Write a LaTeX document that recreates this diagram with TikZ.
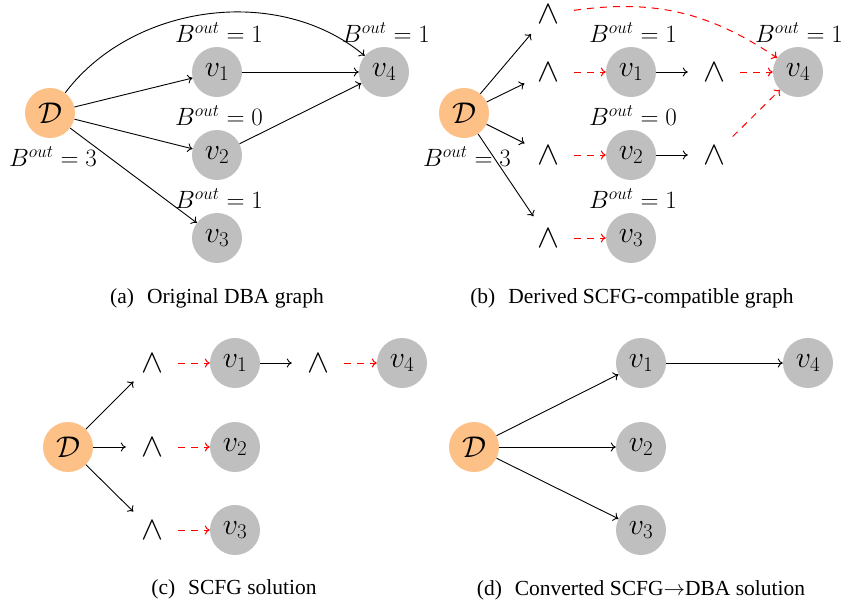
\RequirePackage{fix-cm}
\documentclass[tikz,border=0pt]{standalone}
\usepackage[no-math]{fontspec}
\newfontfamily\capfont{Liberation Serif}
\usetikzlibrary{arrows.meta}
\definecolor{dorange}{HTML}{FDC086}
\definecolor{vgray}{HTML}{BFBFBF}
\tikzset{
  dnode/.style={circle, fill=dorange, minimum size=50pt, inner sep=0pt, font=\fontsize{30}{36}\selectfont},
  vnode/.style={circle, fill=vgray, minimum size=50pt, inner sep=0pt, font=\fontsize{30}{36}\selectfont},
  wnode/.style={circle, minimum size=52pt, inner sep=0pt, font=\fontsize{33}{38}\selectfont},
  blab/.style={inner sep=0pt, font=\fontsize{25}{30}\selectfont},
  caplab/.style={inner sep=0pt, font=\capfont\fontsize{21.5}{26}\selectfont},
  arr/.style={-{To[length=5pt,width=9pt]}, line width=0.9pt, black},
  rarr/.style={-{To[length=5pt,width=9pt]}, line width=1pt, red, dash pattern=on 7pt off 6pt},
}
\begin{document}
\begin{tikzpicture}[x=1pt,y=-1pt]
\path[use as bounding box] (0,0) rectangle (842,608);
% ---------- (a)
\node[dnode] (aD) at (50,113) {$\mathcal{D}$};
\node[vnode] (av1) at (217,72) {$v_1$};
\node[vnode] (av2) at (217,155) {$v_2$};
\node[vnode] (av3) at (217,238) {$v_3$};
\node[vnode] (av4) at (384,72) {$v_4$};
\node[blab] (alD) at (53,157) {$B^{out}=3$};
\node[blab] (al1) at (219,33) {$B^{out}=1$};
\node[blab] (al2) at (219,116) {$B^{out}=0$};
\node[blab] (al3) at (219,199) {$B^{out}=1$};
\node[blab] (al4) at (386,33) {$B^{out}=1$};
\draw[arr] (aD) -- (av1);
\draw[arr] (aD) -- (av2);
\draw[arr] (aD) -- (av3);
\draw[arr] (av1) -- (av4);
\draw[arr] (av2) -- (av4);
\draw[arr] (aD) to[out=53,in=140,looseness=0.95] (av4);
\node[caplab] (capa) at (217,298) {(a)\hspace{0.6em}Original DBA graph};
% ---------- (b)
\node[dnode] (bD) at (464,113) {$\mathcal{D}$};
\node[wnode] (bw0) at (548,14) {$\wedge$};
\node[wnode] (bw1) at (548,72) {$\wedge$};
\node[wnode] (bw2) at (548,155) {$\wedge$};
\node[wnode] (bw3) at (548,238) {$\wedge$};
\node[vnode] (bv1) at (631,72) {$v_1$};
\node[vnode] (bv2) at (631,155) {$v_2$};
\node[vnode] (bv3) at (631,238) {$v_3$};
\node[wnode] (bw4) at (714,72) {$\wedge$};
\node[wnode] (bw5) at (714,155) {$\wedge$};
\node[vnode] (bv4) at (798,72) {$v_4$};
\node[blab] (blD) at (467,157) {$B^{out}=3$};
\node[blab] (bl1) at (633,33) {$B^{out}=1$};
\node[blab] (bl2) at (633,116) {$B^{out}=0$};
\node[blab] (bl3) at (633,199) {$B^{out}=1$};
\node[blab] (bl4) at (799,33) {$B^{out}=1$};
\draw[arr] (bD) -- (bw0);
\draw[arr] (bD) -- (bw1);
\draw[arr] (bD) -- (bw2);
\draw[arr] (bD) -- (bw3);
\draw[rarr] (bw1) -- (bv1);
\draw[rarr] (bw2) -- (bv2);
\draw[rarr] (bw3) -- (bv3);
\draw[arr] (bv1) -- (bw4);
\draw[arr] (bv2) -- (bw5);
\draw[rarr] (bw4) -- (bv4);
\draw[rarr] (bw5) -- (bv4);
\draw[rarr] (bw0) to[out=8,in=146] (bv4);
\node[caplab] (capb) at (632,298) {(b)\hspace{0.6em}Derived SCFG-compatible graph};
% ---------- (c)
\node[dnode] (cD) at (68,447) {$\mathcal{D}$};
\node[wnode] (cw1) at (152,363) {$\wedge$};
\node[wnode] (cw2) at (152,447) {$\wedge$};
\node[wnode] (cw3) at (152,530) {$\wedge$};
\node[vnode] (cv1) at (235,363) {$v_1$};
\node[vnode] (cv2) at (235,447) {$v_2$};
\node[vnode] (cv3) at (235,530) {$v_3$};
\node[wnode] (cw4) at (318,363) {$\wedge$};
\node[vnode] (cv4) at (402,363) {$v_4$};
\draw[arr] (cD) -- (cw1);
\draw[arr] (cD) -- (cw2);
\draw[arr] (cD) -- (cw3);
\draw[rarr] (cw1) -- (cv1);
\draw[rarr] (cw2) -- (cv2);
\draw[rarr] (cw3) -- (cv3);
\draw[arr] (cv1) -- (cw4);
\draw[rarr] (cw4) -- (cv4);
\node[caplab] (capc) at (234,589) {(c)\hspace{0.6em}SCFG solution};
% ---------- (d)
\node[dnode] (dD) at (474,447) {$\mathcal{D}$};
\node[vnode] (dv1) at (641,363) {$v_1$};
\node[vnode] (dv2) at (641,447) {$v_2$};
\node[vnode] (dv3) at (641,530) {$v_3$};
\node[vnode] (dv4) at (808,363) {$v_4$};
\draw[arr] (dD) -- (dv1);
\draw[arr] (dD) -- (dv2);
\draw[arr] (dD) -- (dv3);
\draw[arr] (dv1) -- (dv4);
\node[caplab] (capd) at (641,590) {(d)\hspace{0.6em}Converted SCFG$\rightarrow$DBA solution};
\end{tikzpicture}
\end{document}
